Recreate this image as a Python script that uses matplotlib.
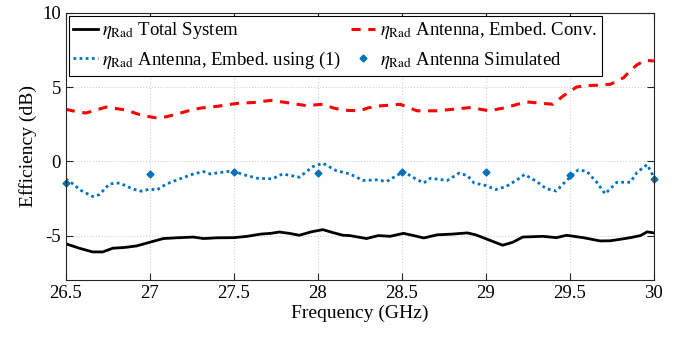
import numpy as np
import matplotlib
matplotlib.use("Agg")
import matplotlib.pyplot as plt

plt.rcParams['font.family'] = ['Liberation Serif', 'DejaVu Serif']
plt.rcParams['mathtext.fontset'] = 'stix'

# Total system (black solid)
f_total = [26.50, 26.58, 26.66, 26.72, 26.78, 26.85, 26.92, 27.00, 27.08, 27.16, 27.26,
           27.32, 27.40, 27.50, 27.58, 27.66, 27.72, 27.77, 27.83, 27.89, 27.96, 28.03,
           28.09, 28.15, 28.19, 28.24, 28.29, 28.36, 28.43, 28.51, 28.57, 28.63, 28.71,
           28.80, 28.89, 28.94, 29.02, 29.10, 29.16, 29.22, 29.34, 29.42, 29.48, 29.58,
           29.68, 29.74, 29.80, 29.86, 29.92, 29.96, 30.00]
eff_total = [-5.55, -5.85, -6.10, -6.10, -5.85, -5.80, -5.70, -5.45, -5.20, -5.15, -5.10,
             -5.20, -5.15, -5.14, -5.05, -4.90, -4.85, -4.76, -4.85, -4.98, -4.75, -4.60,
             -4.80, -4.98, -5.00, -5.10, -5.20, -5.00, -5.05, -4.85, -5.00, -5.16, -4.95,
             -4.90, -4.82, -4.95, -5.30, -5.65, -5.45, -5.10, -5.05, -5.14, -4.98, -5.14,
             -5.36, -5.35, -5.25, -5.14, -5.00, -4.75, -4.82]

# Antenna, embed. conv. (red dashed)
f_conv = [26.50, 26.56, 26.62, 26.68, 26.74, 26.80, 26.86, 26.95, 27.04, 27.10, 27.16,
          27.23, 27.30, 27.40, 27.52, 27.62, 27.72, 27.81, 27.93, 28.03, 28.09, 28.15,
          28.25, 28.30, 28.37, 28.49, 28.59, 28.71, 28.81, 28.91, 29.02, 29.12, 29.24,
          29.34, 29.40, 29.46, 29.54, 29.60, 29.66, 29.74, 29.82, 29.86, 29.90, 29.95,
          30.00]
eff_conv = [3.50, 3.35, 3.25, 3.45, 3.65, 3.55, 3.45, 3.10, 2.92, 3.00, 3.18,
            3.40, 3.58, 3.70, 3.90, 3.96, 4.10, 3.96, 3.75, 3.84, 3.60, 3.44,
            3.40, 3.60, 3.73, 3.84, 3.40, 3.40, 3.51, 3.62, 3.40, 3.62, 4.00,
            3.90, 3.84, 4.40, 5.00, 5.10, 5.12, 5.18, 5.63, 6.10, 6.50, 6.80,
            6.75]

# Antenna, embed. using (1) (blue dotted)
f_emb = [26.50, 26.54, 26.59, 26.66, 26.70, 26.76, 26.82, 26.90, 26.95, 27.00, 27.04,
         27.10, 27.18, 27.26, 27.32, 27.36, 27.46, 27.50, 27.56, 27.64, 27.73, 27.79,
         27.89, 27.97, 28.03, 28.11, 28.19, 28.27, 28.35, 28.41, 28.51, 28.57, 28.63,
         28.67, 28.77, 28.84, 28.89, 28.93, 29.00, 29.06, 29.12, 29.18, 29.23, 29.30,
         29.36, 29.42, 29.48, 29.55, 29.60, 29.66, 29.71, 29.78, 29.86, 29.90, 29.96,
         29.99, 30.00]
eff_emb = [-1.20, -1.50, -1.96, -2.37, -2.24, -1.52, -1.46, -1.87, -2.01, -1.87, -1.94,
           -1.52, -1.18, -0.85, -0.69, -0.85, -0.69, -0.67, -0.91, -1.14, -1.18, -0.85,
           -1.07, -0.36, -0.13, -0.63, -0.85, -1.29, -1.25, -1.36, -0.69, -1.10, -1.46,
           -1.14, -1.29, -0.80, -0.96, -1.46, -1.63, -1.90, -1.70, -1.29, -0.89, -1.34,
           -1.85, -2.00, -1.29, -0.58, -0.67, -1.41, -2.19, -1.41, -1.41, -0.74, -0.22,
           -0.85, -1.18]

# Antenna simulated (markers)
f_sim = [26.5, 27.0, 27.5, 28.0, 28.5, 29.0, 29.5, 30.0]
eff_sim = [-1.45, -0.85, -0.74, -0.78, -0.74, -0.74, -0.89, -1.18]

xticks = [26.5, 27, 27.5, 28, 28.5, 29, 29.5, 30]
xlabels = ['26.5', '27', '27.5', '28', '28.5', '29', '29.5', '30']
yticks = [-5, 0, 5, 10]
ylabels = ['-5', '0', '5', '10']

fig = plt.figure(figsize=(6.89, 3.45), dpi=100)
ax = fig.add_axes([0.0955, 0.188, 0.8535, 0.775])

lab = r'$\eta_{\rm Rad}$'
ax.plot(f_total, eff_total, color='black', lw=2.0, label=lab + ' Total System')
ax.plot(f_emb, eff_emb, color='#0072BD', lw=2.0, ls=(0, (1, 1.2)),
        label=lab + ' Antenna, Embed. using (1)')
ax.plot(f_conv, eff_conv, color='red', lw=2.2, ls=(0, (3, 2.5)),
        label=lab + ' Antenna, Embed. Conv.')
ax.plot(f_sim, eff_sim, ls='none', marker='D', ms=3.5, color='#0072BD',
        label=lab + ' Antenna Simulated', clip_on=False)

ax.set_xlim(26.5, 30)
ax.set_ylim(-8, 10)
ax.set_xticks(xticks)
ax.set_xticklabels(xlabels)
ax.set_yticks(yticks)
ax.set_yticklabels(ylabels)
ax.grid(True, ls=':', color='#d0d0d0', lw=0.8)
ax.tick_params(direction='in', top=True, right=True, labelsize=13.5, length=5,
               color='#262626')
for s in ax.spines.values():
    s.set_color('#262626')
    s.set_linewidth(0.8)
ax.set_xlabel('Frequency (GHz)', fontsize=14, labelpad=2)
ax.set_ylabel('Efficiency (dB)', fontsize=14, labelpad=4)

leg = ax.legend(ncol=2, loc='upper left', fontsize=13.5, frameon=True, fancybox=False,
                edgecolor='black', framealpha=1, handlelength=1.3,
                handletextpad=0.25, columnspacing=0.5, borderaxespad=0.15,
                borderpad=0.25, labelspacing=0.45)
leg.get_frame().set_linewidth(0.8)

fig.savefig('out.png', dpi=100)
